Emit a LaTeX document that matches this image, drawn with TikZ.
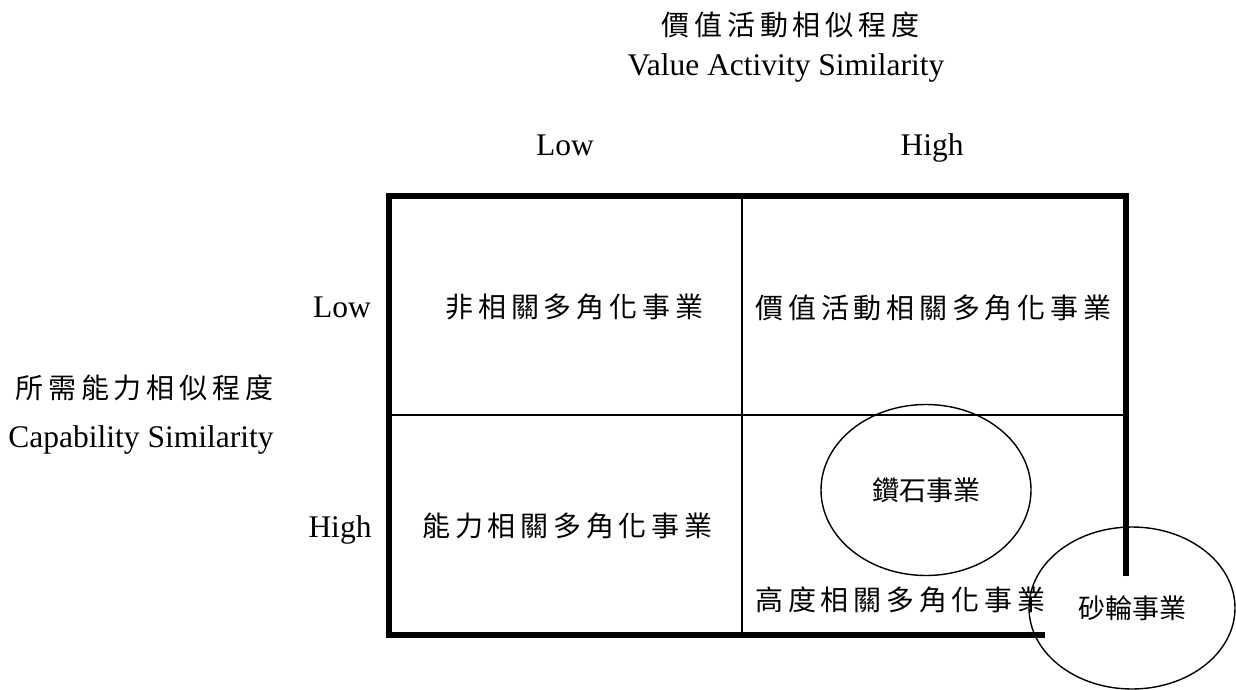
\documentclass[tikz,border=0pt]{standalone}
\usepackage{fontspec}
\setmainfont{Liberation Serif}
\newfontfamily\cjkfont[LetterSpace=17]{Noto Sans CJK TC}
\newfontfamily\cjkplain{Noto Sans CJK TC}
\usetikzlibrary{shapes.geometric}
\begin{document}
\begin{tikzpicture}[x=1pt,y=-1pt,
  en/.style={font=\fontsize{31.5}{36}\selectfont, inner sep=0pt, anchor=base},
  cj/.style={font=\cjkfont\fontsize{28}{32}\selectfont, inner sep=0pt, xshift=2.4pt},
  frame/.style={line width=6pt, line join=miter},
  divider/.style={line width=2pt},
  biz/.style={draw, ellipse, line width=1.4pt, inner sep=0pt, font=\cjkplain\fontsize{27}{31}\selectfont}
]
\useasboundingbox (0,0) rectangle (1236,690);
% frame coordinates
\coordinate (tl) at (389,196);
\coordinate (tr) at (1126,196);
\coordinate (rEnd) at (1126,576);
\coordinate (bl) at (389,635);
\coordinate (bEnd) at (1045,635);
\coordinate (vTop) at (742,196);
\coordinate (vBot) at (742,635);
\coordinate (hL) at (389,415);
\coordinate (hR) at (1126,415);
\draw[frame] (rEnd) -- (tr) -- (tl) -- (bl) -- (bEnd);
\draw[divider] (vTop) -- (vBot);
\draw[divider] (hL) -- (hR);
% titles
\node[cj] (ttlcn) at (788,25) {價值活動相似程度};
\node[en] (ttlen) at (786,76) {Value Activity Similarity};
\node[en] (colLow) at (565,155) {Low};
\node[en] (colHigh) at (932,155) {High};
\node[en] (rowLow) at (342,317) {Low};
\node[en] (rowHigh) at (340,537) {High};
\node[cj] (lftcn) at (142,388) {所需能力相似程度};
\node[en] (lften) at (141,447) {Capability Similarity};
% quadrants
\node[cj] (q1) at (572,307) {非相關多角化事業};
\node[cj] (q2) at (931,308) {價值活動相關多角化事業};
\node[cj] (q3) at (565,526) {能力相關多角化事業};
\node[cj] (q4) at (898,600) {高度相關多角化事業};
% ellipses
\node[biz, minimum width=210pt, minimum height=171pt] (diamond) at (926,490) {鑽石事業};
\node[biz, minimum width=206pt, minimum height=162pt] (wheel) at (1132,608) {砂輪事業};
\end{tikzpicture}
\end{document}
